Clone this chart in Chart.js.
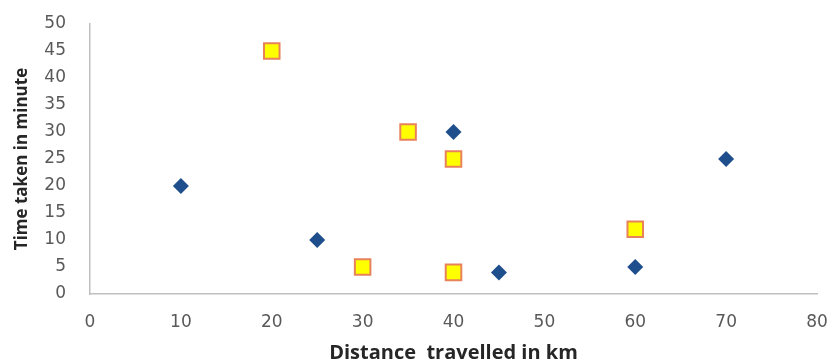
<!DOCTYPE html>
<html>
<head>
<meta charset="utf-8">
<script src="https://cdn.jsdelivr.net/npm/chart.js@4.4.0/dist/chart.umd.min.js"></script>
<style>
  html, body { margin: 0; padding: 0; background: #fff; }
  #wrap { width: 830px; height: 362px; }
</style>
</head>
<body>
<div id="wrap"><canvas id="mychart" width="830" height="362"></canvas></div>
<script>
// blue diamonds
var blueX = [10, 25, 40, 45, 60, 70]
var blueY = [20, 10, 30, 4, 5, 25]
// yellow squares
var yellowX = [20, 35, 40, 30, 40, 60]
var yellowY = [45, 30, 25, 5, 4, 12]

var xTitle = "Distance  travelled in km"
var yTitle = "Time taken in minute"

function pts(xs, ys) {
  var out = []
  for (var i = 0; i < xs.length; i++) out.push({ x: xs[i], y: ys[i] })
  return out
}

var ctx = document.getElementById("mychart").getContext("2d")
var chart = new Chart(ctx, {
  type: "scatter",
  data: {
    datasets: [
      {
        label: "Series1",
        data: pts(blueX, blueY),
        pointStyle: "rectRot",
        pointRadius: 8,
        backgroundColor: "#1F4E8C",
        borderColor: "#1F4E8C",
        borderWidth: 0
      },
      {
        label: "Series2",
        data: pts(yellowX, yellowY),
        pointStyle: "rect",
        pointRadius: 11,
        backgroundColor: "#FFFF00",
        borderColor: "#E8825A",
        borderWidth: 2
      }
    ]
  },
  options: {
    responsive: false,
    animation: false,
    layout: { padding: { top: 24, right: 0, left: 8, bottom: 0 } },
    plugins: { legend: { display: false }, tooltip: { enabled: false } },
    scales: {
      x: {
        type: "linear",
        min: 0, max: 80,
        ticks: { stepSize: 10, color: "#595959", padding: 10, font: { family: "DejaVu Sans", size: 17 } },
        grid: { display: false },
        border: { display: true, color: "#BFBFBF", width: 1.5 },
        title: { display: true, text: xTitle, color: "#262626", padding: { top: 0, bottom: -3 }, font: { family: "Open Sans", size: 20, weight: "bold" } },
        afterFit: function (s) {
          s.height = 68
          s.paddingLeft = 0
          s.paddingRight = 12
        }
      },
      y: {
        min: 0, max: 50,
        ticks: { stepSize: 5, color: "#595959", padding: 16, font: { family: "DejaVu Sans", size: 17 } },
        grid: { display: false },
        border: { display: true, color: "#BFBFBF", width: 1.5 },
        title: { display: true, text: yTitle, color: "#262626", padding: { top: 4, bottom: 4 }, font: { family: "Open Sans", size: 17, weight: "bold" } },
        afterFit: function (s) {
          s.width = 82
          s.paddingTop = 0
          s.paddingBottom = 0
        }
      }
    }
  }
})
</script>
</body>
</html>
